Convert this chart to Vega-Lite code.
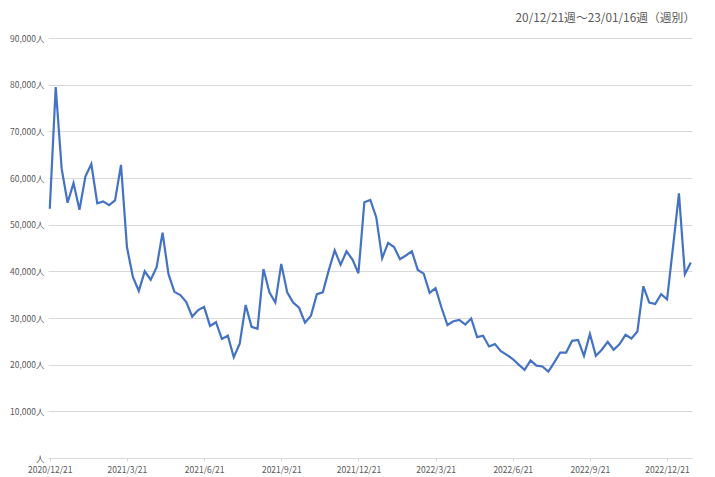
{
  "$schema": "https://vega.github.io/schema/vega-lite/v6.json",
  "autosize": {"type": "none"},
  "width": 644,
  "height": 420,
  "padding": {"left": 48, "top": 38, "right": 23, "bottom": 19},
  "background": "white",
  "title": {
    "text": "20/12/21週～23/01/16週（週別）",
    "anchor": "end",
    "fontSize": 11.8,
    "fontWeight": "normal",
    "font": "Noto Sans CJK JP",
    "color": "#595959",
    "offset": 9
  },
  "data": {
    "values": [
      {"week_no": 0, "cases": 53400}, {"week_no": 1, "cases": 79500}, {"week_no": 2, "cases": 62000},
      {"week_no": 3, "cases": 54700}, {"week_no": 4, "cases": 58900}, {"week_no": 5, "cases": 53200},
      {"week_no": 6, "cases": 60300}, {"week_no": 7, "cases": 63000}, {"week_no": 8, "cases": 54600},
      {"week_no": 9, "cases": 55000}, {"week_no": 10, "cases": 54200}, {"week_no": 11, "cases": 55200},
      {"week_no": 12, "cases": 62800}, {"week_no": 13, "cases": 45200}, {"week_no": 14, "cases": 38800},
      {"week_no": 15, "cases": 35800}, {"week_no": 16, "cases": 40000}, {"week_no": 17, "cases": 38200},
      {"week_no": 18, "cases": 40900}, {"week_no": 19, "cases": 48300}, {"week_no": 20, "cases": 39400},
      {"week_no": 21, "cases": 35600}, {"week_no": 22, "cases": 34900}, {"week_no": 23, "cases": 33400},
      {"week_no": 24, "cases": 30300}, {"week_no": 25, "cases": 31700}, {"week_no": 26, "cases": 32400},
      {"week_no": 27, "cases": 28300}, {"week_no": 28, "cases": 29100}, {"week_no": 29, "cases": 25500},
      {"week_no": 30, "cases": 26200}, {"week_no": 31, "cases": 21600}, {"week_no": 32, "cases": 24500},
      {"week_no": 33, "cases": 32800}, {"week_no": 34, "cases": 28100}, {"week_no": 35, "cases": 27700},
      {"week_no": 36, "cases": 40500}, {"week_no": 37, "cases": 35500}, {"week_no": 38, "cases": 33300},
      {"week_no": 39, "cases": 41600}, {"week_no": 40, "cases": 35500}, {"week_no": 41, "cases": 33300},
      {"week_no": 42, "cases": 32200}, {"week_no": 43, "cases": 29000}, {"week_no": 44, "cases": 30500},
      {"week_no": 45, "cases": 35100}, {"week_no": 46, "cases": 35500}, {"week_no": 47, "cases": 40200},
      {"week_no": 48, "cases": 44500}, {"week_no": 49, "cases": 41400}, {"week_no": 50, "cases": 44300},
      {"week_no": 51, "cases": 42500}, {"week_no": 52, "cases": 39600}, {"week_no": 53, "cases": 54800},
      {"week_no": 54, "cases": 55300}, {"week_no": 55, "cases": 51600}, {"week_no": 56, "cases": 42800},
      {"week_no": 57, "cases": 46100}, {"week_no": 58, "cases": 45200}, {"week_no": 59, "cases": 42600},
      {"week_no": 60, "cases": 43400}, {"week_no": 61, "cases": 44300}, {"week_no": 62, "cases": 40300},
      {"week_no": 63, "cases": 39500}, {"week_no": 64, "cases": 35400}, {"week_no": 65, "cases": 36400},
      {"week_no": 66, "cases": 32200}, {"week_no": 67, "cases": 28500}, {"week_no": 68, "cases": 29300},
      {"week_no": 69, "cases": 29600}, {"week_no": 70, "cases": 28600}, {"week_no": 71, "cases": 29900},
      {"week_no": 72, "cases": 25900}, {"week_no": 73, "cases": 26200}, {"week_no": 74, "cases": 23900},
      {"week_no": 75, "cases": 24400}, {"week_no": 76, "cases": 22900}, {"week_no": 77, "cases": 22100},
      {"week_no": 78, "cases": 21200}, {"week_no": 79, "cases": 20000}, {"week_no": 80, "cases": 18900},
      {"week_no": 81, "cases": 20900}, {"week_no": 82, "cases": 19800}, {"week_no": 83, "cases": 19600},
      {"week_no": 84, "cases": 18500}, {"week_no": 85, "cases": 20500}, {"week_no": 86, "cases": 22600},
      {"week_no": 87, "cases": 22600}, {"week_no": 88, "cases": 25100}, {"week_no": 89, "cases": 25300},
      {"week_no": 90, "cases": 21900}, {"week_no": 91, "cases": 26600}, {"week_no": 92, "cases": 21900},
      {"week_no": 93, "cases": 23200}, {"week_no": 94, "cases": 24900}, {"week_no": 95, "cases": 23200},
      {"week_no": 96, "cases": 24400}, {"week_no": 97, "cases": 26400}, {"week_no": 98, "cases": 25600},
      {"week_no": 99, "cases": 27100}, {"week_no": 100, "cases": 36800}, {"week_no": 101, "cases": 33300},
      {"week_no": 102, "cases": 33000}, {"week_no": 103, "cases": 35100}, {"week_no": 104, "cases": 34000},
      {"week_no": 105, "cases": 45200}, {"week_no": 106, "cases": 56700}, {"week_no": 107, "cases": 39400},
      {"week_no": 108, "cases": 41900}
    ]
  },
  "mark": {"type": "line", "color": "#4472C4", "strokeWidth": 2.2, "strokeJoin": "miter"},
  "encoding": {
    "x": {
      "field": "week_no",
      "type": "quantitative",
      "scale": {"domain": [-0.3, 108.2], "nice": false, "zero": false},
      "axis": {
        "title": null,
        "values": [0, 13, 26, 39, 52, 65, 78, 91, 104],
        "labelExpr": "['2020/12/21','2021/3/21','2021/6/21','2021/9/21','2021/12/21','2022/3/21','2022/6/21','2022/9/21','2022/12/21'][round(datum.value/13)]",
        "grid": false,
        "domain": true,
        "domainColor": "#d9d9d9",
        "ticks": true,
        "tickColor": "#d9d9d9",
        "tickSize": 3,
        "labelFont": "Noto Sans CJK JP",
        "labelFontSize": 8.5,
        "labelColor": "#595959",
        "labelPadding": 4,
        "labelFlush": false,
        "labelOverlap": false
      }
    },
    "y": {
      "field": "cases",
      "type": "quantitative",
      "scale": {"domain": [0, 90000], "nice": false},
      "axis": {
        "title": null,
        "values": [0, 10000, 20000, 30000, 40000, 50000, 60000, 70000, 80000, 90000],
        "labelExpr": "datum.value == 0 ? '人' : format(datum.value, ',') + '人'",
        "grid": true,
        "gridColor": "#d9d9d9",
        "gridWidth": 1,
        "domain": false,
        "ticks": false,
        "labelFont": "Noto Sans CJK JP",
        "labelFontSize": 8.5,
        "labelColor": "#595959",
        "labelPadding": 4
      }
    }
  },
  "config": {"view": {"stroke": null}}
}
